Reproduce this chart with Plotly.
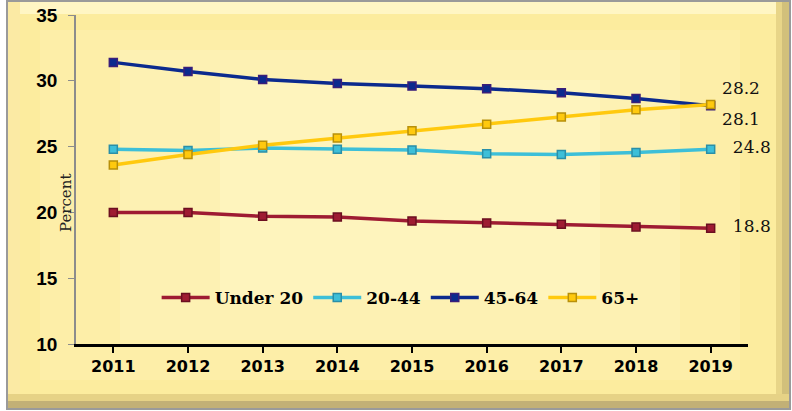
import plotly.graph_objects as go

years = ["2011", "2012", "2013", "2014", "2015", "2016", "2017", "2018", "2019"]
under20 = [20.0, 20.0, 19.7, 19.65, 19.35, 19.2, 19.1, 18.9, 18.8]
age20_44 = [24.8, 24.7, 24.9, 24.8, 24.75, 24.45, 24.4, 24.55, 24.8]
age45_64 = [31.4, 30.7, 30.1, 29.8, 29.6, 29.4, 29.1, 28.65, 28.1]
age65p = [23.6, 24.4, 25.1, 25.65, 26.2, 26.7, 27.25, 27.8, 28.2]
y_ticks = [10, 15, 20, 25, 30, 35]

series = [
    ("Under 20", under20, "#9E1B32", "#6B0F20", "middle right", "   "),
    ("20-44", age20_44, "#3DBFD8", "#2A8FA8", "middle right", "   "),
    ("45-64", age45_64, "#0B2A8E", "#3A1E7A", "bottom right", " "),
    ("65+", age65p, "#FFC90E", "#B8900A", "top right", " "),
]

fig = go.Figure()
for name, vals, col, mcol, tpos, pad in series:
    labels = [""] * (len(vals) - 1) + [pad + f"{vals[-1]:.1f}"]
    fig.add_trace(go.Scatter(
        x=years, y=vals, name=name, mode="lines+markers+text",
        line=dict(color=col, width=3.5),
        marker=dict(symbol="square", size=8, color=col,
                    line=dict(color=mcol, width=1.5)),
        text=labels, textposition=tpos,
        textfont=dict(family="DejaVu Serif", size=17, color="#111"),
        cliponaxis=False,
    ))

# plot area in pixels: x 76..748, y 15..344
L, R, T, B = 76, 748, 15, 344
W, H = R - L, B - T

def px(x):
    return (x - L) / W

def py(y):
    return (B - y) / H

def rect(x0, y0, x1, y1, fill, opacity=1.0, line=None):
    return dict(type="rect", xref="paper", yref="paper", layer="below",
                x0=px(x0), x1=px(x1), y0=py(y1), y1=py(y0),
                fillcolor=fill, opacity=opacity,
                line=line if line else dict(width=0))

shapes = [
    rect(7, 1, 790, 409, "#F9E695", line=dict(color="#9A9A9A", width=2)),
    # bevels
    rect(8, 2, 789, 14, "#FFF6C4"),
    rect(8, 2, 20, 408, "#FBEAA4"),
    rect(776, 2, 789, 408, "#E8D588"),
    rect(782, 2, 789, 408, "#C9B676", opacity=0.7),
    rect(8, 394, 789, 408, "#E6D286"),
    rect(8, 401, 789, 408, "#B9A872", opacity=0.8),
    # main face
    rect(20, 14, 776, 394, "#FCEC9E"),
    rect(40, 30, 740, 380, "#FDF0AC", opacity=0.7),
    rect(120, 50, 680, 340, "#FEF4BB", opacity=0.6),
    rect(220, 80, 600, 300, "#FFF7C8", opacity=0.5),
]

fig.update_layout(
    width=792, height=411,
    margin=dict(l=L, r=792 - R, t=T, b=411 - B, autoexpand=False),
    paper_bgcolor="white",
    plot_bgcolor="rgba(0,0,0,0)",
    shapes=shapes,
    showlegend=True,
    legend=dict(orientation="h", x=0.12, y=0.14, xanchor="left", yanchor="middle",
                bgcolor="rgba(0,0,0,0)", itemwidth=48,
                font=dict(family="DejaVu Serif", size=17, color="#000", weight="bold"),
                tracegroupgap=0),
    annotations=[dict(text="Percent", xref="paper", yref="paper",
                      x=px(66), y=py(203), showarrow=False, textangle=-90,
                      xanchor="center", yanchor="middle",
                      font=dict(family="DejaVu Serif", size=15, color="#222"))],
    xaxis=dict(type="category", showgrid=False, showline=True, linecolor="#000",
               linewidth=2.5, ticks="outside", ticklen=6, tickcolor="#000",
               tickwidth=1.5, automargin=False,
               tickfont=dict(family="DejaVu Sans", size=16, color="#000", weight="bold"),
               zeroline=False, range=[-0.5, 8.5]),
    yaxis=dict(range=[10, 35], tickvals=y_ticks, showgrid=False, showline=True,
               linecolor="#8C8C8C", linewidth=1.5, ticks="outside", ticklen=6,
               tickcolor="#8C8C8C", automargin=False, ticklabelstandoff=7,
               tickfont=dict(family="Liberation Sans", size=19, color="#000", weight="bold"),
               zeroline=False),
)

fig.write_html("out.html", config={"displayModeBar": False},
               post_script="document.body.style.margin='0';document.body.style.padding='0';")
